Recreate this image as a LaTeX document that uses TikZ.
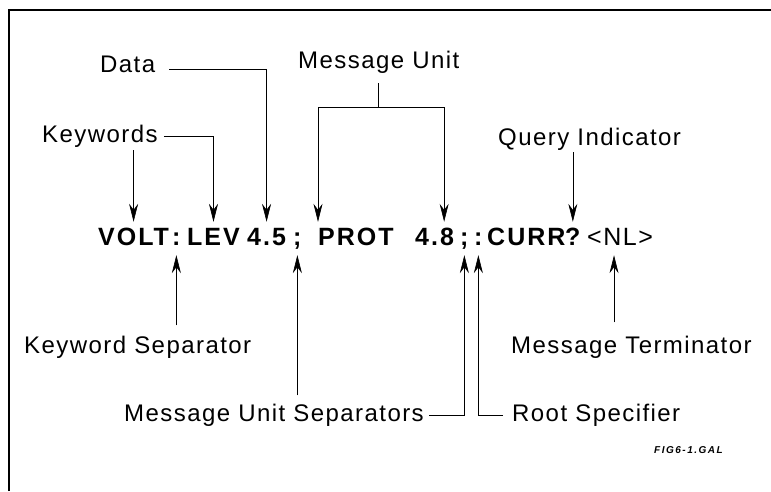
\documentclass[tikz,border=0pt]{standalone}
\usepackage{fontspec}
\usepackage{tikz}
\usetikzlibrary{arrows.meta, positioning}

\newfontfamily\lblfont[LetterSpace=6]{Liberation Sans}
\newfontfamily\cmdfont[LetterSpace=8]{Liberation Sans}
\newfontfamily\figfont[LetterSpace=15]{Liberation Sans}

\begin{document}
\begin{tikzpicture}[x=1pt, y=-1pt,
  lbl/.style={anchor=base west, inner sep=0pt, font=\lblfont\fontsize{24}{28}\selectfont},
  cmd/.style={anchor=base west, inner sep=0pt, text height=18pt, text depth=0pt,
    font=\cmdfont\bfseries\fontsize{25}{30}\selectfont},
  nlbox/.style={cmd, font=\lblfont\fontsize{25}{30}\selectfont},
  link/.style={line width=0.6pt},
  dnarr/.style={link, -{Stealth[length=18pt, width=9pt, inset=6pt]}, shorten >=5pt},
  uparr/.style={link, -{Stealth[length=18pt, width=9pt, inset=6pt]}, shorten >=10pt}]
\useasboundingbox (0,0) rectangle (771,491);
% frame
\draw[line width=2pt] (9,491) -- (9,10) -- (771,10);

% the command line
\node[cmd] (volt) at (98,245) {VOLT};
\node[cmd] (colA) at (172,245) {:};
\node[cmd] (lev) at (187,245) {LEV};
\node[cmd] (val1) at (247,245) {4.5};
\node[cmd] (semiA) at (293,245) {;};
\node[cmd] (prot) at (318,245) {PROT};
\node[cmd] (val2) at (415,245) {4.8};
\node[cmd] (semiB) at (460,245) {;};
\node[cmd] (colB) at (474,245) {:};
\node[cmd] (curr) at (487,245) {CURR};
\node[cmd] (qm) at (565,245) {?};
\node[nlbox] (nl) at (587,245) {<NL>};
\coordinate (nlfoot) at ([xshift=-6pt]nl.south);

% labels above
\node[lbl] (data) at (100,72) {Data};
\node[lbl] (mu) at (298,68) {Message Unit};
\node[lbl] (kw) at (42,142) {Keywords};
\node[lbl] (ql) at (498,145) {Query Indicator};

% labels below
\node[lbl] (ks) at (24,353) {Keyword Separator};
\node[lbl] (mt) at (511,353) {Message Terminator};
\node[lbl] (mus) at (124,421) {Message Unit Separators};
\node[lbl] (rs) at (512,421) {Root Specifier};
\node[lbl, font=\figfont\bfseries\itshape\fontsize{10}{12}\selectfont] (fig) at (654,453) {FIG6-1.GAL};

% arrows from above
\draw[dnarr, shorten <=3pt] (kw.south -| volt.north) -- (volt.north);
\draw[dnarr] ([xshift=6pt]kw.east) -| (lev.north);
\draw[dnarr] ([xshift=14pt, yshift=3pt]data.base east) -| (val1.north);
\coordinate (mujoin) at ([yshift=-34pt]mu.south);
\draw[link] ([yshift=-10pt]mu.south) -- (mujoin);
\draw[dnarr] (mujoin) -| (prot.north west);
\draw[dnarr] (mujoin) -| ([xshift=-10pt]val2.north east);
\draw[dnarr, shorten <=2pt] (ql.south -| qm.north) -- (qm.north);

% arrows from below
\draw[uparr, shorten <=10pt] (ks.north -| colA.south) -- (colA.south);
\draw[uparr, shorten <=8pt] (mus.north -| semiA.south) -- (semiA.south);
\draw[uparr] ([xshift=5pt]mus.east) -| (semiB.south);
\draw[uparr] ([xshift=-9pt]rs.west) -| (colB.south);
\draw[uparr, shorten <=13pt] (mt.north -| nlfoot) -- (nlfoot);
\end{tikzpicture}
\end{document}
